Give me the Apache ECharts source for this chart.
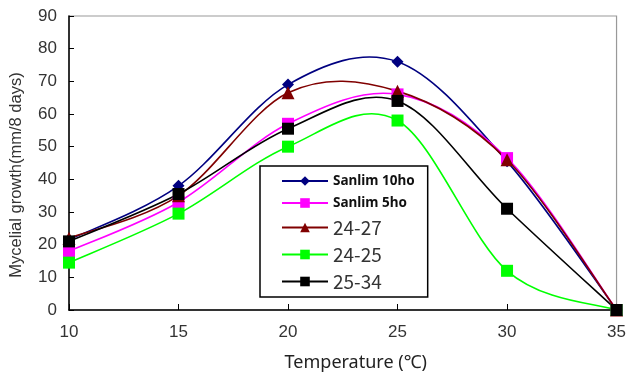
<!DOCTYPE html>
<html><head><meta charset="utf-8">
<script src="https://cdn.jsdelivr.net/npm/echarts@6/dist/echarts.min.js"></script>
<style>html,body{margin:0;padding:0;background:#fff}#c{width:629px;height:381px}</style>
</head><body><div id="c"></div>
<script>
const temps = [10, 15, 20, 25, 30, 35];
const sanlim10 = [21.5, 38, 69, 76, 45.5, 0];
const sanlim5 = [18, 33, 57, 66, 46.5, 0];
const s2427 = [22, 35, 66.5, 67, 46, 0];
const s2425 = [14.5, 29.5, 50, 58, 12, 0];
const s2534 = [21, 35.5, 55.5, 64, 31, 0];
const seriesNames = ['Sanlim 10ho', 'Sanlim 5ho', '24-27', '24-25', '25-34'];
const seriesValues = [sanlim10, sanlim5, s2427, s2425, s2534];
const colors = ['#000080', '#FF00FF', '#800000', '#00FF00', '#000000'];
const symbols = ['diamond', 'rect', 'triangle', 'rect', 'rect'];
const symSizes = [12, 12, 13, 12, 12];

// Excel-like smoothed curve (Catmull-Rom -> cubic Bezier) drawn through axis coordinates
function curveRenderer(values, color) {
  return function (params, api) {
    if (params.dataIndex !== 0) return null;
    const pts = temps.map((t, j) => api.coord([t, values[j]]));
    const children = [];
    const n = pts.length;
    for (let i = 0; i < n - 1; i++) {
      const p0 = pts[Math.max(0, i - 1)], p1 = pts[i], p2 = pts[i + 1], p3 = pts[Math.min(n - 1, i + 2)];
      children.push({
        type: 'bezierCurve',
        shape: {
          x1: p1[0], y1: p1[1], x2: p2[0], y2: p2[1],
          cpx1: p1[0] + (p2[0] - p0[0]) / 6, cpy1: p1[1] + (p2[1] - p0[1]) / 6,
          cpx2: p2[0] - (p3[0] - p1[0]) / 6, cpy2: p2[1] - (p3[1] - p1[1]) / 6
        },
        style: { stroke: color, fill: 'none', lineWidth: 1.6 }
      });
    }
    return { type: 'group', children: children };
  };
}

const markerSeries = seriesNames.map((name, i) => ({
  name: name, type: 'line', smooth: false,
  data: temps.map((t, j) => [t, seriesValues[i][j]]),
  symbol: symbols[i], symbolSize: symSizes[i],
  itemStyle: { color: colors[i] },
  lineStyle: { color: colors[i], width: 1.6, opacity: 0 },
  z: 10 + i
}));
const curveSeries = seriesNames.map((name, i) => ({
  name: name, type: 'custom', renderItem: curveRenderer(seriesValues[i], colors[i]),
  data: temps.map((t, j) => [t, seriesValues[i][j]]),
  itemStyle: { color: colors[i] }, z: 2 + i, silent: true, clip: false
}));

const chart = echarts.init(document.getElementById('c'));
chart.setOption({
  animation: false,
  backgroundColor: '#fff',
  grid: { left: 67, right: 12, top: 16, bottom: 71, show: true, borderColor: '#999', borderWidth: 1.2 },
  xAxis: {
    type: 'value', min: 10, max: 35, interval: 5,
    name: 'Temperature (℃)', nameLocation: 'middle', nameGap: 44,
    nameTextStyle: { fontSize: 18, color: '#222', fontFamily: 'Noto Sans', padding: [0, 0, 0, 26] },
    axisLine: { lineStyle: { color: '#000', width: 1.5 } },
    axisTick: { inside: true, length: 6, lineStyle: { color: '#000' } },
    axisLabel: { fontSize: 17, color: '#333', margin: 14, fontFamily: 'Liberation Sans' },
    splitLine: { show: false }
  },
  yAxis: {
    type: 'value', min: 0, max: 90, interval: 10,
    name: 'Mycelial growth(mm/8 days)', nameLocation: 'middle', nameGap: 44,
    nameTextStyle: { fontSize: 16.5, color: '#333', fontFamily: 'Liberation Sans', padding: [0, 24, 0, 0] },
    axisLine: { show: true, lineStyle: { color: '#000', width: 1.5 } },
    axisTick: { show: true, inside: true, length: 5, lineStyle: { color: '#000' } },
    axisLabel: { fontSize: 17, color: '#333', margin: 12, fontFamily: 'Liberation Sans' },
    splitLine: { show: false }
  },
  legend: {
    orient: 'vertical', left: 260, top: 166,
    backgroundColor: '#fff', borderColor: '#000', borderWidth: 1.5,
    padding: [8, 13, 6, 21], itemGap: 8, itemWidth: 46, itemHeight: 12,
    data: seriesNames,
    lineStyle: { opacity: 1 },
    formatter: function (n) { return n.indexOf('Sanlim') === 0 ? '{b|' + n + '}' : '{n|' + n + '}'; },
    textStyle: {
      rich: {
        b: { fontSize: 13.5, fontWeight: 'bold', color: '#111', fontFamily: 'Noto Sans', height: 16 },
        n: { fontSize: 19, color: '#333', fontFamily: 'Noto Sans CJK KR', height: 16 }
      }
    }
  },
  series: markerSeries.concat(curveSeries)
});
</script></body></html>
